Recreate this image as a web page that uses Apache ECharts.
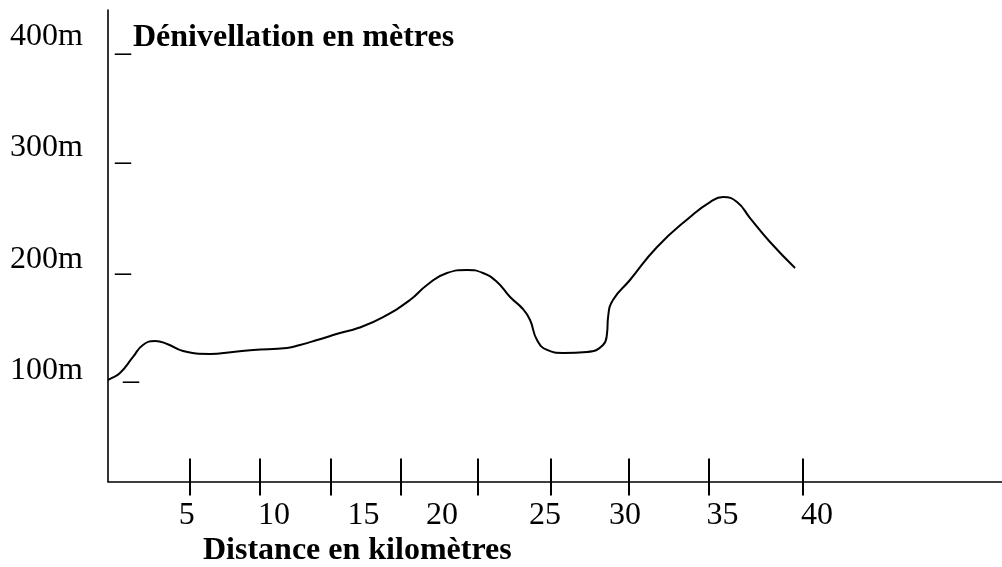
<!DOCTYPE html>
<html>
<head>
<meta charset="utf-8">
<script src="https://cdn.jsdelivr.net/npm/echarts@6/dist/echarts.min.js"></script>
<style>
html,body{margin:0;padding:0;background:#fff;}
#chart{width:1002px;height:567px;}
</style>
</head>
<body>
<div id="chart"></div>
<script>
// Profile: distance (km, on the drawn scale) and elevation (m)
const distanceKm = [0, 0.12, 0.69, 1.44, 2.01, 2.71, 3.40, 4.32, 5.87, 7.19, 8.35, 10.30, 11.05, 12.03, 13.35, 14.39, 15.83, 17.38, 18.36, 19.51, 20.66, 21.58, 22.39, 23.14, 23.88, 24.29, 24.69, 25.27, 26.19, 27.57, 28.49, 28.72, 28.78, 29.06, 30.04, 31.60, 33.50, 34.65, 35.40, 36.20, 36.95, 38.10, 39.54];
const elevationM = [91.3, 92.2, 97.6, 112.0, 122.8, 126.3, 123.7, 117.4, 114.7, 116.5, 118.3, 120.1, 122.8, 127.2, 133.5, 138.0, 147.9, 163.2, 176.7, 187.5, 190.2, 187.5, 179.4, 165.9, 155.1, 145.2, 127.2, 118.3, 115.6, 116.5, 122.8, 133.5, 147.9, 163.2, 181.2, 210.9, 237.9, 251.3, 255.8, 251.3, 236.9, 215.4, 192.0];

// Hand-drawn tick marks on the distance axis (km on the drawn scale)
const xTickPositions = [4.68, 8.71, 12.82, 16.85, 21.27, 25.48, 29.99, 34.55, 39.98];
// Positions of the distance labels and their texts
const xLabelPositions = [4.53, 9.55, 14.71, 19.22, 25.15, 29.76, 35.37, 40.81];
const xLabelTexts = ['5', '10', '15', '20', '25', '30', '35', '40'];

// Elevation tick labels
const yTickValues = [100, 200, 300, 400];
const yTickLabels = ['100m', '200m', '300m', '400m'];

const yAxisTitle = 'Dénivellation en mètres';
const xAxisTitle = 'Distance en kilomètres';

const FONT = '"Liberation Serif", "Times New Roman", serif';
const X_MAX = 51.45;
const Y_MAX = 424;

const chart = echarts.init(document.getElementById('chart'), null, {renderer: 'canvas'});

const seriesData = distanceKm.map((d, i) => [d, elevationM[i]]);

const dashStyle = (padTop, padLeft) => ({padding: [padTop, 0, 0, padLeft], fontFamily: FONT, fontSize: 32, color: '#000'});

chart.setOption({
  animation: false,
  backgroundColor: '#ffffff',
  title: [
    {
      text: yAxisTitle,
      left: 128, top: 17,
      textStyle: {fontFamily: FONT, fontSize: 32, fontWeight: 'bold', color: '#000'}
    },
    {
      text: xAxisTitle,
      left: 198, top: 530,
      textStyle: {fontFamily: FONT, fontSize: 32, fontWeight: 'bold', color: '#000'}
    }
  ],
  grid: {left: 108, right: 0, top: 10, bottom: 85.5, containLabel: false},
  xAxis: [
    {
      type: 'value', min: 0, max: X_MAX, position: 'bottom',
      axisLine: {show: true, onZero: false, lineStyle: {color: '#000', width: 1.6}},
      axisTick: {show: true, inside: true, length: 23, customValues: xTickPositions, lineStyle: {color: '#000', width: 2}},
      axisLabel: {show: false},
      splitLine: {show: false}
    },
    {
      type: 'value', min: 0, max: X_MAX, position: 'bottom', offset: 0,
      axisLine: {show: false, onZero: false},
      axisTick: {show: true, inside: false, length: 14, customValues: xTickPositions, lineStyle: {color: '#000', width: 2}},
      axisLabel: {
        show: true, margin: 18,
        customValues: xLabelPositions,
        formatter: function (v) {
          let best = 0, bd = Infinity;
          xLabelPositions.forEach((p, i) => { const d = Math.abs(p - v); if (d < bd) { bd = d; best = i; } });
          return xLabelTexts[best];
        },
        fontFamily: FONT, fontSize: 32, color: '#000'
      },
      splitLine: {show: false}
    }
  ],
  yAxis: [
    {
      type: 'value', min: 0, max: Y_MAX,
      axisLine: {show: true, onZero: false, lineStyle: {color: '#000', width: 1.6}},
      axisTick: {show: false},
      axisLabel: {
        show: true, align: 'left', margin: 98,
        customValues: yTickValues,
        formatter: function (v) {
          const i = yTickValues.indexOf(v);
          return i >= 0 ? yTickLabels[i] : '';
        },
        fontFamily: FONT, fontSize: 32, color: '#000'
      },
      splitLine: {show: false}
    },
    {
      type: 'value', min: 0, max: Y_MAX, position: 'left', offset: 0,
      axisLine: {show: false},
      axisTick: {show: false},
      axisLabel: {
        show: true, inside: true, margin: 7,
        customValues: yTickValues,
        formatter: function (v) {
          if (v === 400) return '{a|_}';
          if (v === 300) return '{b|_}';
          if (v === 200) return '{c|_}';
          return '{d|_}';
        },
        rich: {
          a: dashStyle(12, 0),
          b: dashStyle(8, 0),
          c: dashStyle(6, 0),
          d: dashStyle(1, 8)
        },
        fontFamily: FONT, fontSize: 32, color: '#000'
      },
      splitLine: {show: false}
    }
  ],
  series: [
    {
      type: 'line',
      xAxisIndex: 0, yAxisIndex: 0,
      data: seriesData,
      smooth: 0.5,
      showSymbol: false,
      symbol: 'none',
      lineStyle: {color: '#000', width: 2},
      clip: false
    }
  ]
});
</script>
</body>
</html>
